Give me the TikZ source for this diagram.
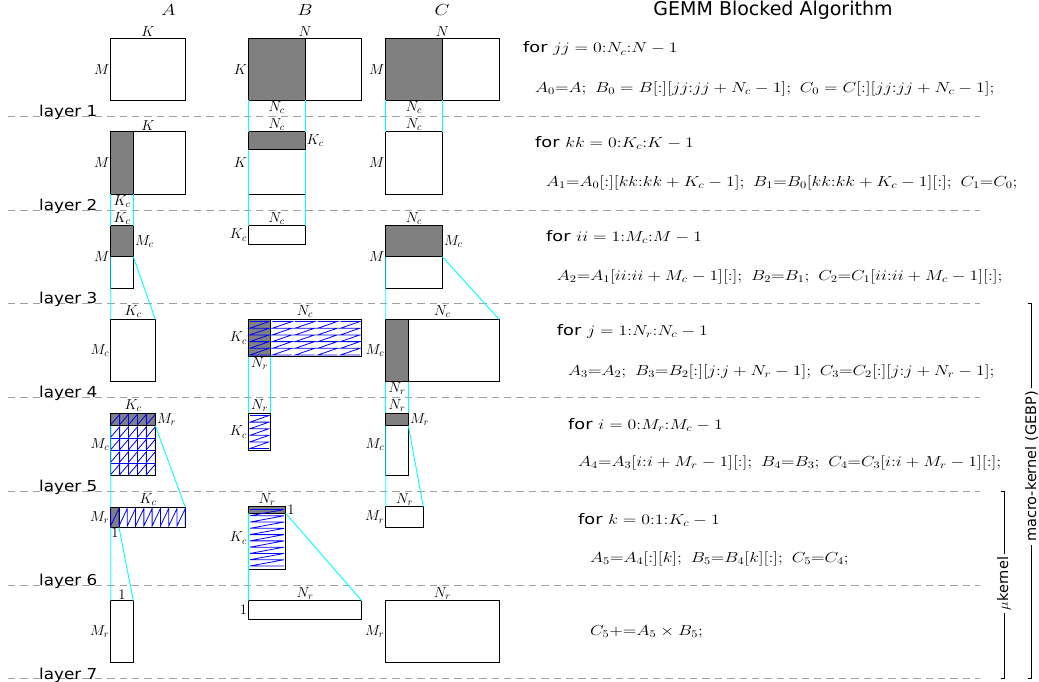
\RequirePackage{fix-cm}
\documentclass[tikz,border=0pt]{standalone}
\usepackage{graphicx}
\usepackage{fontspec}
\newfontfamily\dejavu{DejaVu Sans}
\definecolor{cyn}{RGB}{0,255,255}
\definecolor{sepgray}{RGB}{160,160,160}
\newcommand\labsize{\fontsize{14.5}{17}\selectfont}
\newcommand\codesize{\fontsize{14.5}{17}\selectfont}
\newcommand\forword{{\dejavu\fontsize{14.5}{17}\selectfont for}}
\newcommand\wide[1]{\scalebox{1.225}[1]{#1}}
\newcommand\zigrows[5]{%
  \pgfmathsetmacro\zdy{(#4-#2)/#5}%
  \draw[zig] (#1,#2) -- (#3,#2) \foreach \zi in {1,...,#5}{ -- (#1,{#2+\zi*\zdy}) -- (#3,{#2+\zi*\zdy})};%
}
\newcommand\zigcols[5]{%
  \pgfmathsetmacro\zdx{(#3-#1)/#5}%
  \draw[zig] (#1,#2) -- (#1,#4) \foreach \zi in {1,...,#5}{ -- ({#1+\zi*\zdx},#2) -- ({#1+\zi*\zdx},#4)};%
}
\tikzset{
  mat/.style={draw=black, line width=1pt},
  gblk/.style={draw=black, fill=black!50, line width=1pt},
  zig/.style={draw=blue, line width=0.8pt},
  cy/.style={draw=cyn, line width=0.9pt},
  sep/.style={draw=sepgray, line width=1pt, dash pattern=on 7.4pt off 5pt},
  lab/.style={font=\labsize},
  lt/.style={lab, anchor=south, inner sep=1.2pt},
  ll/.style={lab, anchor=east, inner sep=1.2pt},
  lr/.style={lab, anchor=west, inner sep=1.5pt},
  lb/.style={lab, anchor=north, inner sep=0.8pt},
  laylab/.style={font=\dejavu\fontsize{15}{18}\selectfont, anchor=base west, inner sep=0pt},
  code/.style={font=\codesize, anchor=base west, inner sep=0pt},
  hdr/.style={font=\fontsize{16}{19}\selectfont, inner sep=0pt},
  brk/.style={draw=black, line width=1pt},
  brklab/.style={font=\dejavu\fontsize{14.5}{17}\selectfont, rotate=90, fill=white, inner sep=3pt},
}
\begin{document}
\begin{tikzpicture}[x=1pt,y=-1pt]
\useasboundingbox (0,0) rectangle (1039,682);

% layer separators
\foreach \yy/\n in {116.7/1, 210/2, 303.3/3, 397.3/4, 491/5, 585/6, 678.7/7}{
  \draw[sep] (8,\yy) -- (980,\yy);
  \node[laylab] (lay\n) at (39,\yy+0.3) {\scalebox{1.12}[1]{layer \n}};
}

% headers
\node[hdr] (hA) at (168.5,10) {\scalebox{1.2}[1]{$A$}};
\node[hdr] (hB) at (305,10) {\scalebox{1.2}[1]{$B$}};
\node[hdr] (hC) at (442,10) {\scalebox{1.2}[1]{$C$}};
\node[font=\dejavu\fontsize{19}{22}\selectfont, inner sep=0pt] (title) at (773,10) {GEMM Blocked Algorithm};

% ---------- layer 1
\draw[mat] (110.7,38.3) rectangle (185.3,100.3);
\draw[mat] (248.3,38.3) rectangle (361.7,100.3);
\draw[gblk] (248.3,38.3) rectangle (305,100.3);
\draw[mat] (385.7,38.3) rectangle (499,100.3);
\draw[gblk] (385.7,38.3) rectangle (442.3,100.3);
% ---------- layer 2
\draw[mat] (110.7,131.7) rectangle (185.3,194.3);
\draw[gblk] (110.7,131.7) rectangle (133.3,194.3);
\draw[mat] (248.3,131.7) rectangle (305,194.3);
\draw[gblk] (248.3,131.7) rectangle (305,150);
\draw[mat] (385.7,131.7) rectangle (442.3,194.3);
% ---------- layer 3
\draw[mat] (110.7,225.7) rectangle (133.3,288.3);
\draw[gblk] (110.7,225.7) rectangle (133.3,256.7);
\draw[mat] (248.3,225.7) rectangle (305,244.3);
\draw[mat] (385.7,225.7) rectangle (442.3,288.3);
\draw[gblk] (385.7,225.7) rectangle (442.3,256.7);
% ---------- layer 4
\draw[mat] (110.7,319.3) rectangle (155.3,381.7);
\draw[mat] (248.3,319.3) rectangle (361.7,356.7);
\draw[gblk] (248.3,319.3) rectangle (270.7,356.7);
\foreach \k in {0,...,4}{
  \zigrows{248.3+\k*22.68+1.5}{321.5}{248.3+\k*22.68+21}{355}{5}
}
\draw[mat] (385.7,319.3) rectangle (499,381.7);
\draw[gblk] (385.7,319.3) rectangle (408.3,381.7);
% ---------- layer 5
\draw[mat] (110.7,413.3) rectangle (155.3,475.7);
\draw[gblk] (110.7,413.3) rectangle (155.3,425.7);
\foreach \r in {0,...,4}{
  \zigcols{110.7}{413.3+\r*12.48+1}{155.3}{413.3+\r*12.48+11.5}{5}
}
\foreach \r in {1,...,4}{
  \draw[zig] (110.7,413.3+\r*12.48) -- (155.3,413.3+\r*12.48);
}
\draw[mat] (110.7,413.3) rectangle (155.3,475.7);
\draw[gblk, fill=none] (110.7,413.3) rectangle (155.3,425.7);
\draw[mat] (248.3,413.3) rectangle (270.7,450.7);
\zigrows{250}{415.5}{269}{448.5}{5}
\draw[mat] (385.7,413.3) rectangle (408.3,475.7);
\draw[gblk] (385.7,413.3) rectangle (408.3,425.7);
% ---------- layer 6
\draw[mat] (110.7,507.3) rectangle (185.3,527.3);
\draw[gblk] (110.7,507.3) rectangle (119,527.3);
\zigcols{110.7}{508.5}{185.3}{526}{9}
\draw[mat] (248.3,506.7) rectangle (285.7,569.3);
\draw[gblk] (248.3,506.7) rectangle (285.7,513.3);
\zigrows{250}{509.5}{284}{566}{9}
\draw[mat] (385.7,506.7) rectangle (423.3,527.3);
% ---------- layer 7
\draw[mat] (110.7,600.7) rectangle (133.3,662.7);
\draw[mat] (248.3,600.7) rectangle (361.7,619.3);
\draw[mat] (385.7,600.7) rectangle (499,662.7);

% ---------- cyan projections
\draw[cy] (248.3,100.3) -- (248.3,131.7) (305,100.3) -- (305,131.7);
\draw[cy] (385.7,100.3) -- (385.7,131.7) (442.3,100.3) -- (442.3,131.7);
\draw[cy] (110.7,194.3) -- (110.7,225.7) (133.3,194.3) -- (133.3,225.7);
\draw[cy] (248.3,150) -- (248.3,225.7) (305,150) -- (305,225.7);
\draw[cy] (110.7,256.7) -- (110.7,319.3) (133.3,256.7) -- (155.3,319.3);
\draw[cy] (385.7,256.7) -- (385.7,319.3) (442.3,256.7) -- (499,319.3);
\draw[cy] (248.3,356.7) -- (248.3,413.3) (270.7,356.7) -- (270.7,413.3);
\draw[cy] (385.7,381.7) -- (385.7,413.3) (408.3,381.7) -- (408.3,413.3);
\draw[cy] (110.7,425.7) -- (110.7,507.3) (155.3,425.7) -- (185.3,507.3);
\draw[cy] (385.7,425.7) -- (385.7,506.7) (408.3,425.7) -- (423.3,506.7);
\draw[cy] (248.3,513.3) -- (248.3,600.7) (285.7,513.3) -- (361.7,600.7);
\draw[cy] (110.7,527.3) -- (110.7,600.7) (119,527.3) -- (133.3,600.7);

% ---------- labels layer 1
\node[lt] (a1t) at (148,38.3) {$K$};
\node[ll] (a1l) at (110.7,69.3) {$M$};
\node[lt] (b1t) at (305,38.3) {$N$};
\node[ll] (b1l) at (248.3,69.3) {$K$};
\node[lb] (b1b) at (276.7,100.3) {$N_c$};
\node[lt] (c1t) at (442.3,38.3) {$N$};
\node[ll] (c1l) at (385.7,69.3) {$M$};
\node[lb] (c1b) at (414,100.3) {$N_c$};
% layer 2
\node[lt] (a2t) at (148,131.7) {$K$};
\node[ll] (a2l) at (110.7,163) {$M$};
\node[lb] (a2b) at (122,194.3) {$K_c$};
\node[lt] (b2t) at (276.7,131.7) {$N_c$};
\node[lr] (b2r) at (305,140.9) {$K_c$};
\node[ll] (b2l) at (248.3,163) {$K$};
\node[lt] (c2t) at (414,131.7) {$N_c$};
\node[ll] (c2l) at (385.7,163) {$M$};
% layer 3
\node[lt] (a3t) at (122,225.7) {$K_c$};
\node[lr] (a3r) at (133.3,241.2) {$M_c$};
\node[ll] (a3l) at (110.7,257) {$M$};
\node[lt] (b3t) at (276.7,225.7) {$N_c$};
\node[ll] (b3l) at (248.3,235) {$K_c$};
\node[lt] (c3t) at (414,225.7) {$N_c$};
\node[lr] (c3r) at (442.3,241.2) {$M_c$};
\node[ll] (c3l) at (385.7,257) {$M$};
% layer 4
\node[lt] (a4t) at (133,319.3) {$K_c$};
\node[ll] (a4l) at (110.7,350.5) {$M_c$};
\node[lt] (b4t) at (305,319.3) {$N_c$};
\node[ll] (b4l) at (248.3,338) {$K_c$};
\node[lb] (b4b) at (259.5,356.7) {$N_r$};
\node[lt] (c4t) at (442.3,319.3) {$N_c$};
\node[ll] (c4l) at (385.7,350.5) {$M_c$};
\node[lb] (c4b) at (397,381.7) {$N_r$};
% layer 5
\node[lt] (a5t) at (133,413.3) {$K_c$};
\node[lr] (a5r) at (155.3,419.5) {$M_r$};
\node[ll] (a5l) at (110.7,444.5) {$M_c$};
\node[lt] (b5t) at (259.5,413.3) {$N_r$};
\node[ll] (b5l) at (248.3,432) {$K_c$};
\node[lt] (c5t) at (397,413.3) {$N_r$};
\node[lr] (c5r) at (408.3,419.5) {$M_r$};
\node[ll] (c5l) at (385.7,444.5) {$M_c$};
% layer 6
\node[lt] (a6t) at (148,507.3) {$K_c$};
\node[ll] (a6l) at (110.7,517.3) {$M_r$};
\node[lb] (a6b) at (114.9,527.3) {$1$};
\node[lt] (b6t) at (267,506.7) {$N_r$};
\node[lr] (b6r) at (285.7,510) {$1$};
\node[ll] (b6l) at (248.3,538) {$K_c$};
\node[lt] (c6t) at (404.5,506.7) {$N_r$};
\node[ll] (c6l) at (385.7,517) {$M_r$};
% layer 7
\node[lt] (a7t) at (122,600.7) {$1$};
\node[ll] (a7l) at (110.7,631.7) {$M_r$};
\node[lt] (b7t) at (305,600.7) {$N_r$};
\node[ll] (b7l) at (248.3,610) {$1$};
\node[lt] (c7t) at (442.3,600.7) {$N_r$};
\node[ll] (c7l) at (385.7,631.7) {$M_r$};

% ---------- algorithm text
\node[code] (t1) at (523,53) {\wide{\forword\ $jj = 0{:}N_c{:}N-1$}};
\node[code] (t2) at (535,92.5) {\wide{$A_0{=}A;\ B_0 = B[{:}][jj{:}jj+N_c-1];\ C_0 = C[{:}][jj{:}jj+N_c-1];$}};
\node[code] (t3) at (535,147.5) {\wide{\forword\ $kk = 0{:}K_c{:}K-1$}};
\node[code] (t4) at (546,186.7) {\wide{$A_1{=}A_0[{:}][kk{:}kk+K_c-1];\ B_1{=}B_0[kk{:}kk+K_c-1][{:}];\ C_1{=}C_0;$}};
\node[code] (t5) at (546,241.5) {\wide{\forword\ $ii = 1{:}M_c{:}M-1$}};
\node[code] (t6) at (556.7,280.7) {\wide{$A_2{=}A_1[ii{:}ii+M_c-1][{:}];\ B_2{=}B_1;\ C_2{=}C_1[ii{:}ii+M_c-1][{:}];$}};
\node[code] (t7) at (556.7,335) {\wide{\forword\ $j = 1{:}N_r{:}N_c-1$}};
\node[code] (t8) at (568,375.7) {\wide{$A_3{=}A_2;\ B_3{=}B_2[{:}][j{:}j+N_r-1];\ C_3{=}C_2[{:}][j{:}j+N_r-1];$}};
\node[code] (t9) at (568,429.3) {\wide{\forword\ $i = 0{:}M_r{:}M_c-1$}};
\node[code] (t10) at (578,466.7) {\wide{$A_4{=}A_3[i{:}i+M_r-1][{:}];\ B_4{=}B_3;\ C_4{=}C_3[i{:}i+M_r-1][{:}];$}};
\node[code] (t11) at (578,524) {\wide{\forword\ $k = 0{:}1{:}K_c-1$}};
\node[code] (t12) at (590,562.3) {\wide{$A_5{=}A_4[{:}][k];\ B_5{=}B_4[k][{:}];\ C_5{=}C_4;$}};
\node[code] (t13) at (590,635.7) {\wide{$C_5{+}{=}A_5\times B_5;$}};

% ---------- brackets
\draw[brk] (1028,303.3) -- (1031.5,303.3) -- (1031.5,678.7) -- (1028,678.7);
\node[brklab] (macro) at (1031.5,466.5) {macro-kernel (GEBP)};
\draw[brk] (1000.5,491) -- (1004,491) -- (1004,678.7) -- (1000.5,678.7);
\node[brklab] (micro) at (1004,583.5) {$\mu$kernel};
\end{tikzpicture}
\end{document}
